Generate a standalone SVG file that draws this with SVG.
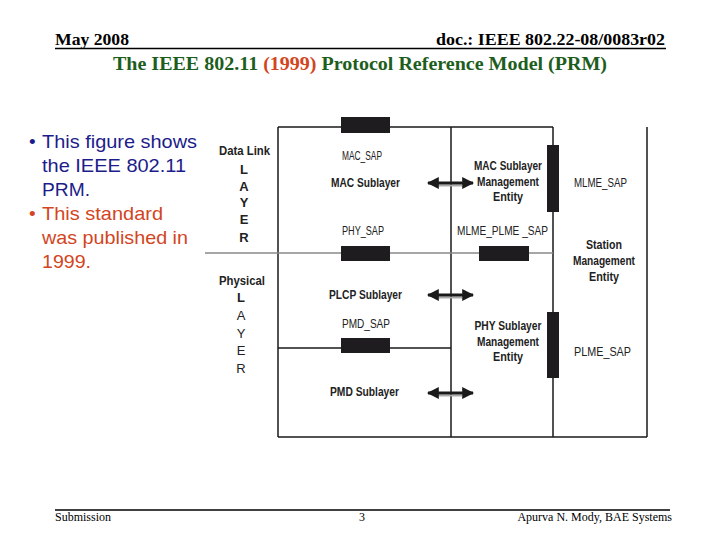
<svg xmlns="http://www.w3.org/2000/svg" width="720" height="540" viewBox="0 0 720 540">
<style>
.hdr{font-family:"Liberation Serif","Times New Roman",serif;font-weight:bold;font-size:16px;fill:#000}
.ttl{font-family:"Liberation Serif","Times New Roman",serif;font-weight:bold;font-size:18px;fill:#1d5e1d}
.ftr{font-family:"Liberation Serif","Times New Roman",serif;font-size:12px;fill:#000}
.bl{font-family:"Liberation Sans",Arial,sans-serif;font-size:19px}
.blue{fill:#1c1c8a}
.red{fill:#d2451e}
.t{font-family:"Liberation Sans Narrow","Liberation Sans",Arial,sans-serif;font-size:13px;fill:#222}
.b{font-weight:bold}
.sap{fill:#1e1c1e}
.ln{stroke:#1a1a1a;stroke-width:1.5;fill:none}
.gl{stroke:#888;stroke-width:1.5;fill:none}
</style>
<defs>
<marker id="ah" viewBox="0 0 10 10" refX="9" refY="5" markerWidth="4" markerHeight="5.5" orient="auto-start-reverse" markerUnits="strokeWidth">
<path d="M0,0 L10,5 L0,10 z" fill="#1a1a1a"/>
</marker>
</defs>
<rect width="720" height="540" fill="#fff"/>
<g id="header">
<text class="hdr" x="55" y="45" textLength="74" lengthAdjust="spacingAndGlyphs">May 2008</text>
<text class="hdr" x="436" y="45" textLength="229" lengthAdjust="spacingAndGlyphs">doc.: IEEE 802.22-08/0083r02</text>
<line x1="55" y1="48.5" x2="666" y2="48.5" stroke="#000" stroke-width="1.5"/>
<text class="ttl" x="113" y="70" textLength="494" lengthAdjust="spacingAndGlyphs">The IEEE 802.11 <tspan fill="#d2451e">(1999)</tspan> Protocol Reference Model (PRM)</text>
</g>
<g id="bullets">
<text class="bl blue" x="29" y="148">•</text>
<text class="bl blue" x="42" y="148" textLength="155" lengthAdjust="spacingAndGlyphs">This figure shows</text>
<text class="bl blue" x="42" y="172" textLength="144" lengthAdjust="spacingAndGlyphs">the IEEE 802.11</text>
<text class="bl blue" x="42" y="196" textLength="48" lengthAdjust="spacingAndGlyphs">PRM.</text>
<text class="bl red" x="29" y="220">•</text>
<text class="bl red" x="42" y="220" textLength="121" lengthAdjust="spacingAndGlyphs">This standard</text>
<text class="bl red" x="42" y="244" textLength="146" lengthAdjust="spacingAndGlyphs">was published in</text>
<text class="bl red" x="42" y="268" textLength="49" lengthAdjust="spacingAndGlyphs">1999.</text>
</g>
<g id="frame">
<path class="ln" d="M278,127 H553 M278,127 V437 M451,127 V437 M553,127 V437 M647,127 V437 M278,437 H647 M278,348 H451"/>
<line class="gl" x1="205" y1="253" x2="553" y2="253"/>
</g>
<g id="saps">
<rect class="sap" x="341" y="117" width="49" height="16"/>
<rect class="sap" x="341" y="246" width="49" height="15"/>
<rect class="sap" x="479" y="246" width="50" height="15"/>
<rect class="sap" x="341" y="338" width="49" height="15"/>
<rect class="sap" x="547" y="145" width="12" height="67"/>
<rect class="sap" x="547" y="312" width="12" height="66"/>
</g>
<g id="data-link-layer">
<text class="t b" x="219" y="155" textLength="51" lengthAdjust="spacingAndGlyphs">Data Link</text>
<text class="t b" x="244" y="174" text-anchor="middle">L</text>
<text class="t b" x="244" y="191" text-anchor="middle">A</text>
<text class="t b" x="244" y="207" text-anchor="middle">Y</text>
<text class="t b" x="244" y="224" text-anchor="middle">E</text>
<text class="t b" x="244" y="242" text-anchor="middle">R</text>
</g>
<g id="physical-layer">
<text class="t b" x="219" y="285" textLength="46" lengthAdjust="spacingAndGlyphs">Physical</text>
<text class="t b" x="241" y="302" text-anchor="middle">L</text>
<text class="t" x="241" y="320" text-anchor="middle">A</text>
<text class="t" x="241" y="338" text-anchor="middle">Y</text>
<text class="t" x="241" y="355" text-anchor="middle">E</text>
<text class="t" x="241" y="373" text-anchor="middle">R</text>
</g>
<g id="mac-sublayer">
<text class="t" x="342" y="160" textLength="40" lengthAdjust="spacingAndGlyphs">MAC_SAP</text>
<text class="t b" x="331" y="187" textLength="69" lengthAdjust="spacingAndGlyphs">MAC Sublayer</text>
<text class="t" x="342" y="235" textLength="42" lengthAdjust="spacingAndGlyphs">PHY_SAP</text>
</g>
<g id="plcp-sublayer">
<text class="t b" x="329" y="299" textLength="73" lengthAdjust="spacingAndGlyphs">PLCP Sublayer</text>
<text class="t" x="342" y="328" textLength="48" lengthAdjust="spacingAndGlyphs">PMD_SAP</text>
</g>
<g id="pmd-sublayer">
<text class="t b" x="330" y="396" textLength="69" lengthAdjust="spacingAndGlyphs">PMD Sublayer</text>
</g>
<g id="mac-sublayer-management-entity">
<text class="t b" x="508" y="170" text-anchor="middle" textLength="68" lengthAdjust="spacingAndGlyphs">MAC Sublayer</text>
<text class="t b" x="508" y="186" text-anchor="middle" textLength="62" lengthAdjust="spacingAndGlyphs">Management</text>
<text class="t b" x="508" y="201" text-anchor="middle" textLength="30" lengthAdjust="spacingAndGlyphs">Entity</text>
<text class="t" x="457" y="235" textLength="91" lengthAdjust="spacingAndGlyphs">MLME_PLME _SAP</text>
</g>
<g id="phy-sublayer-management-entity">
<text class="t b" x="508" y="330" text-anchor="middle" textLength="67" lengthAdjust="spacingAndGlyphs">PHY Sublayer</text>
<text class="t b" x="508" y="346" text-anchor="middle" textLength="62" lengthAdjust="spacingAndGlyphs">Management</text>
<text class="t b" x="508" y="361" text-anchor="middle" textLength="30" lengthAdjust="spacingAndGlyphs">Entity</text>
</g>
<g id="station-management-entity">
<text class="t" x="574" y="187" textLength="53" lengthAdjust="spacingAndGlyphs">MLME_SAP</text>
<text class="t b" x="604" y="249" text-anchor="middle" textLength="36" lengthAdjust="spacingAndGlyphs">Station</text>
<text class="t b" x="604" y="265" text-anchor="middle" textLength="62" lengthAdjust="spacingAndGlyphs">Management</text>
<text class="t b" x="604" y="281" text-anchor="middle" textLength="30" lengthAdjust="spacingAndGlyphs">Entity</text>
<text class="t" x="574" y="356" textLength="57" lengthAdjust="spacingAndGlyphs">PLME_SAP</text>
</g>
<g id="connectors">
<g stroke="#aaa" stroke-width="2">
<line x1="438" y1="185.5" x2="462" y2="185.5"/>
<line x1="438" y1="297.5" x2="462" y2="297.5"/>
<line x1="438" y1="395.5" x2="462" y2="395.5"/>
</g>
<g stroke="#1a1a1a" stroke-width="3" marker-start="url(#ah)" marker-end="url(#ah)">
<line x1="428" y1="183" x2="473" y2="183"/>
<line x1="428" y1="295" x2="473" y2="295"/>
<line x1="428" y1="393" x2="473" y2="393"/>
</g>
</g>
<g id="footer">
<line x1="55" y1="510" x2="670" y2="510" stroke="#000" stroke-width="1.5"/>
<text class="ftr" x="55" y="521">Submission</text>
<text class="ftr" x="362" y="521" text-anchor="middle">3</text>
<text class="ftr" x="672" y="521" text-anchor="end">Apurva N. Mody, BAE Systems</text>
</g>
</svg>
